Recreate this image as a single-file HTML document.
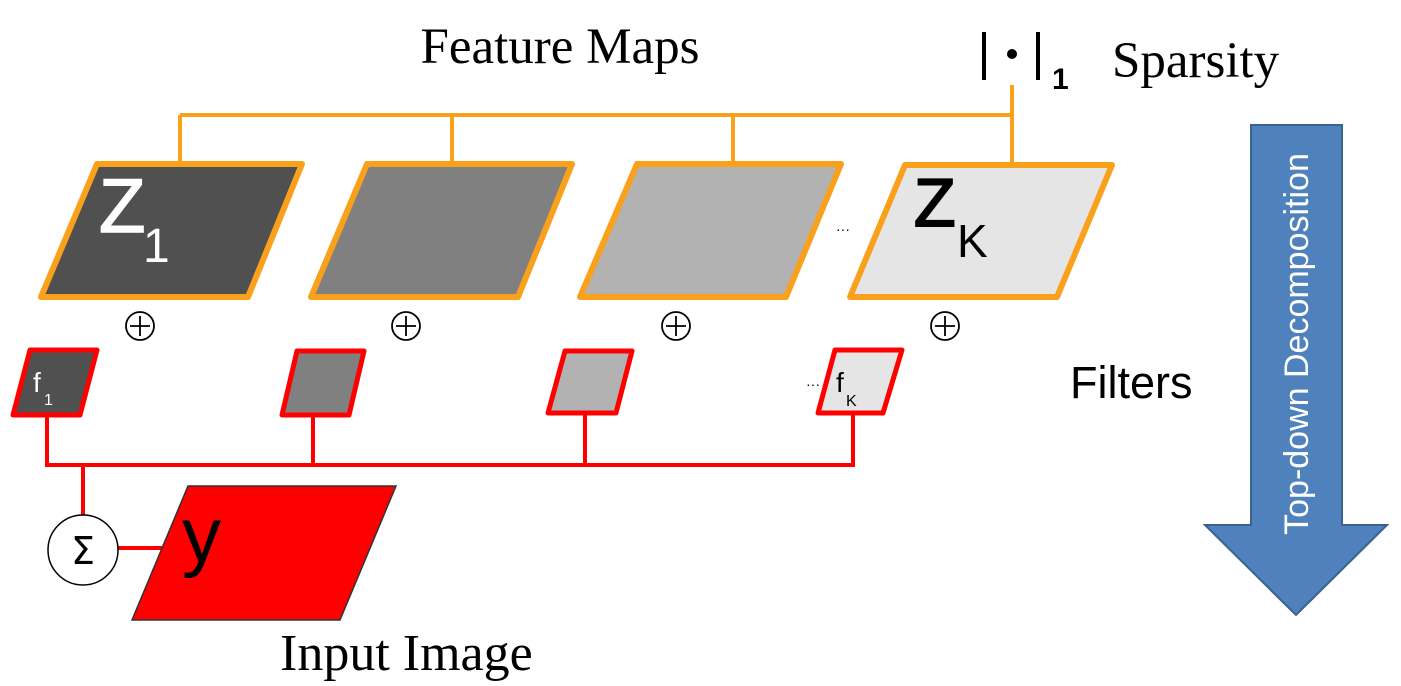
<!DOCTYPE html>
<html><head><meta charset="utf-8"><style>body{margin:0;background:#fff}svg{display:block}</style></head>
<body>
<svg width="1401" height="686" viewBox="0 0 1401 686" xmlns="http://www.w3.org/2000/svg">
<g font-family="Liberation Serif, serif" fill="#000">
<text x="560" y="63" font-size="51" text-anchor="middle">Feature Maps</text>
<text x="1112" y="77" font-size="51">Sparsity</text>
<text x="280" y="670" font-size="52">Input Image</text>
</g>
<g stroke="#000" stroke-width="4">
<path d="M984 32V80M1038 32V80"/>
</g>
<circle cx="1012" cy="54" r="5" fill="#000"/>
<text x="1052" y="89" font-family="Liberation Sans, sans-serif" font-size="30" font-weight="bold">1</text>
<g stroke="#f9a11b" stroke-width="4" fill="none">
<path d="M1012 85V165M180 115H1012M180 115V165M452 115V165M733 115V165"/>
</g>
<g stroke="#f9a11b" stroke-width="6" stroke-linejoin="round">
<path d="M97 164H302L248 297H41Z" fill="#505050"/>
<path d="M367 164H572L518 297H311Z" fill="#808080"/>
<path d="M637 164H841L786 297H580Z" fill="#b2b2b2"/>
<path d="M905 165H1112L1057 297H850Z" fill="#e5e5e5"/>
</g>
<g font-family="Liberation Sans, sans-serif">
<text x="99" y="232" font-size="76" fill="#fff" stroke="#fff" stroke-width="1.5">Z</text>
<text x="143" y="262" font-size="48" fill="#fff">1</text>
<text x="914" y="226" font-size="68" fill="#000" stroke="#000" stroke-width="2">Z</text>
<text x="957" y="257" font-size="46" fill="#000">K</text>
<text x="836" y="234" font-size="14">···</text>
<text x="806" y="389" font-size="14">···</text>
</g>
<g stroke="#000" stroke-width="1.8" fill="none">
<circle cx="140" cy="326" r="14"/><path d="M130 326H150M140 316V336"/>
<circle cx="406" cy="326" r="14"/><path d="M396 326H416M406 316V336"/>
<circle cx="676" cy="326" r="14"/><path d="M666 326H686M676 316V336"/>
<circle cx="945" cy="326" r="14"/><path d="M935 326H955M945 316V336"/>
</g>
<g stroke="#f00" stroke-width="4" fill="none">
<path d="M47 416V465H853V413M313 416V465M585 414V465M83 465V515M118 548H166"/>
</g>
<g stroke="#f00" stroke-width="5" stroke-linejoin="round">
<path d="M30 350H97L80 415H13Z" fill="#505050"/>
<path d="M297 351H364L349 415H282Z" fill="#808080"/>
<path d="M565 351H632L616 413H548Z" fill="#b2b2b2"/>
<path d="M835 350H902L883 413H818Z" fill="#e5e5e5"/>
</g>
<g font-family="Liberation Sans, sans-serif">
<text x="33" y="392" font-size="28" fill="#fff">f</text>
<text x="44" y="405" font-size="16" fill="#fff">1</text>
<text x="836" y="392" font-size="28">f</text>
<text x="846" y="406" font-size="16">K</text>
<text x="1070" y="398" font-size="45">Filters</text>
</g>
<circle cx="83" cy="550" r="35" fill="#fff" stroke="#000" stroke-width="1.5"/>
<text x="83" y="564" font-family="DejaVu Sans, sans-serif" font-size="38" text-anchor="middle">Σ</text>
<path d="M188 486H396L340 620H132Z" fill="#f00" stroke="#333" stroke-width="1.5"/>
<text x="182" y="562" font-family="Liberation Sans, sans-serif" font-size="78">y</text>
<path d="M1251 125H1342V525H1387L1296 615L1205 525H1251Z" fill="#4f81bd" stroke="#3a6290" stroke-width="2"/>
<text transform="translate(1308 344) rotate(-90)" font-family="Liberation Sans, sans-serif" font-size="34" fill="#fff" text-anchor="middle">Top-down Decomposition</text>
</svg>
</body></html>
